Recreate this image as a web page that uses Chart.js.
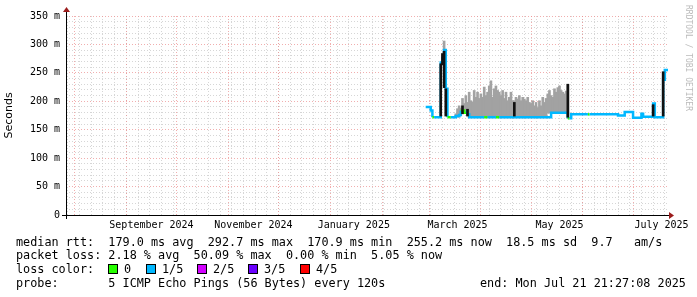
<!DOCTYPE html>
<html lang="en">
<head>
<meta charset="UTF-8">
<title>Smokeping - last 360 days</title>
<script src="https://cdn.jsdelivr.net/npm/chart.js@4.4.1/dist/chart.umd.min.js"></script>
<style>
    body { margin: 0; background: #fff; }
    #wrap { position: relative; width: 697px; height: 297px; font-family: "DejaVu Sans Mono", monospace; color: #000; }
    .leg { position: absolute; white-space: pre; font-size: 11.8px; line-height: 14px; }
    .box { position: absolute; width: 8px; height: 8px; border: 1px solid #000; }
    #credit { position: absolute; left: 684px; top: 5px; writing-mode: vertical-rl; font-size: 8px; line-height: 9px; color: #bbb; white-space: pre; }
</style>
</head>
<body>
<div id="wrap">
    <canvas id="myChart" width="697" height="297"></canvas>
    <div id="credit">RRDTOOL / TOBI OETIKER</div>
    <div class="leg" style="left:16px;top:235px">median rtt:  179.0 ms avg  292.7 ms max  170.9 ms min  255.2 ms now  18.5 ms sd  9.7   am/s</div>
    <div class="leg" style="left:16px;top:248px">packet loss: 2.18 % avg  50.09 % max  0.00 % min  5.05 % now</div>
    <div class="leg" style="left:16px;top:262px">loss color:</div>
    <div id="lossLegend"></div>
    <div class="leg" style="left:16px;top:276px">probe:       5 ICMP Echo Pings (56 Bytes) every 120s</div>
    <div class="leg" style="left:480px;top:276px">end: Mon Jul 21 21:27:08 2025</div>
</div>

<script>
    // median rtt (ms), value holds from each date until the next one
    var medDates = ['2025-02-27', '2025-03-02', '2025-03-03', '2025-03-04', '2025-03-08', '2025-03-09', '2025-03-10',
        '2025-03-11', '2025-03-12', '2025-03-14', '2025-03-17', '2025-03-19', '2025-03-20', '2025-03-22', '2025-03-23',
        '2025-03-24', '2025-03-25', '2025-04-03', '2025-04-05', '2025-04-10', '2025-04-12', '2025-05-13', '2025-05-23',
        '2025-05-24', '2025-05-25', '2025-06-04', '2025-06-05', '2025-06-22', '2025-06-26', '2025-07-01', '2025-07-06',
        '2025-07-07', '2025-07-13', '2025-07-14', '2025-07-19', '2025-07-20', '2025-07-21T21:27'];
    var medRtt = [190, 184, 172, 172, 268, 276, 290, 222, 172, 172,
        174, 176, 184, 180, 182, 177, 172, 172, 172, 172,
        172, 180, 170, 170, 177, 177, 177, 175, 181, 171,
        178, 173, 196, 172, 238, 255, 255];
    // loss bucket per median point: 0 = 0, 1 = 1/5, ...
    var medLoss = [1, 1, 0, 1, 1, 1, 1, 1, 0, 1,
        1, 1, 0, 0, 1, 1, 1, 0, 1, 0,
        1, 1, 0, 1, 1, 0, 1, 1, 1, 1,
        1, 1, 1, 1, 1, 1, 1];

    // smoke (spread of the pings), low and high edge in ms
    var smokeDates = ['2025-03-10',
        '2025-03-17', '2025-03-18', '2025-03-19', '2025-03-20', '2025-03-21', '2025-03-22', '2025-03-23', '2025-03-24',
        '2025-03-25', '2025-03-26', '2025-03-27', '2025-03-28', '2025-03-29', '2025-03-30', '2025-03-31', '2025-04-01',
        '2025-04-02', '2025-04-03', '2025-04-04', '2025-04-05', '2025-04-06', '2025-04-07', '2025-04-08', '2025-04-09',
        '2025-04-10', '2025-04-11', '2025-04-12', '2025-04-13', '2025-04-14', '2025-04-15', '2025-04-16', '2025-04-17',
        '2025-04-18', '2025-04-19', '2025-04-20', '2025-04-21', '2025-04-22', '2025-04-23', '2025-04-24', '2025-04-25',
        '2025-04-26', '2025-04-27', '2025-04-28', '2025-04-29', '2025-04-30', '2025-05-01', '2025-05-02', '2025-05-03',
        '2025-05-04', '2025-05-05', '2025-05-06', '2025-05-07', '2025-05-08', '2025-05-09', '2025-05-10', '2025-05-11',
        '2025-05-12', '2025-05-13', '2025-05-14', '2025-05-15', '2025-05-16', '2025-05-17', '2025-05-18', '2025-05-19',
        '2025-05-20', '2025-05-21', '2025-05-22', '2025-05-23'];
    var smokeLo = [288,
        172, 172, 172, 180, 180, 180, 180, 176,
        171, 171, 171, 171, 171, 171, 171, 171,
        171, 171, 171, 171, 171, 171, 171, 171,
        171, 171, 171, 171, 171, 171, 171, 171,
        171, 171, 171, 171, 171, 171, 171, 171,
        171, 171, 171, 171, 171, 171, 171, 171,
        171, 171, 171, 171, 171, 171, 171, 179,
        179, 179, 179, 179, 179, 179, 179, 179,
        179, 179, 179, 170];
    var smokeHi = [306,
        178, 187, 192, 188, 205, 196, 210, 198,
        216, 201, 199, 219, 207, 216, 205, 213,
        207, 225, 210, 216, 227, 236, 207, 222,
        227, 219, 216, 210, 219, 205, 216, 201,
        207, 216, 201, 201, 207, 204, 210, 201,
        207, 204, 201, 207, 198, 196, 201, 192,
        198, 189, 201, 192, 207, 198, 205, 213,
        219, 210, 207, 222, 216, 224, 227, 219,
        216, 213, 218, 230];

    // dense (dark) parts of the smoke
    var darkDates = ['2025-03-08', '2025-03-09', '2025-03-10', '2025-03-11', '2025-03-21', '2025-03-24',
        '2025-04-21', '2025-05-23', '2025-07-13', '2025-07-19'];
    var darkLo = [174, 264, 224, 174, 178, 174, 174, 172, 174, 174];
    var darkHi = [266, 284, 288, 222, 192, 186, 198, 230, 194, 252];

    // x axis labels
    var labelDates = ['2024-09-16', '2024-11-16', '2025-01-15', '2025-03-18', '2025-05-18', '2025-07-18'];
    var labelText = ['September 2024', 'November 2024', 'January 2025', 'March 2025', 'May 2025', 'July 2025'];

    var lossNames = ['0', '1/5', '2/5', '3/5', '4/5'];
    var lossColors = ['#26ff00', '#00b8ff', '#d200ff', '#6a00ff', '#ff0000'];

    var t0 = Date.UTC(2024, 6, 26, 21, 27);
    function day(s) {
        return (Date.parse(s.length > 10 ? s + 'Z' : s + 'T00:00Z') - t0) / 864e5;
    }

    // loss color legend boxes
    var lossX = [108, 146, 197, 248, 300];
    var legHtml = '';
    lossNames.forEach(function (n, i) {
        legHtml += '<div class="box" style="left:' + lossX[i] + 'px;top:264px;background:' + lossColors[i] + '"></div>';
        legHtml += '<div class="leg" style="left:' + (lossX[i] + 16) + 'px;top:262px">' + n + '</div>';
    });
    document.getElementById('lossLegend').innerHTML = legHtml;

    var med = medDates.map(function (d, i) { return {x: day(d), y: medRtt[i]}; });
    var smoke = smokeDates.map(function (d, i) { return {x: day(d), y: [smokeLo[i], smokeHi[i]]}; });
    var dark = darkDates.map(function (d, i) { return {x: day(d), y: [darkLo[i], darkHi[i]]}; });

    var MAJOR = 'rgba(235,140,140,0.7)';
    var MINOR = 'rgba(200,200,200,0.75)';
    var mono = {family: '"DejaVu Sans Mono", monospace', size: 10};

    var axisArrows = {
        id: 'axisArrows',
        afterDraw: function (chart) {
            var a = chart.chartArea, c = chart.ctx;
            c.save();
            c.strokeStyle = '#000';
            c.lineWidth = 1;
            c.beginPath();
            c.moveTo(a.left - 4, a.bottom + 0.5);
            c.lineTo(a.right + 2, a.bottom + 0.5);
            c.moveTo(a.left + 0.5, a.bottom + 4);
            c.lineTo(a.left + 0.5, a.top - 4);
            c.stroke();
            c.fillStyle = '#9b1c1c';
            c.beginPath();
            c.moveTo(a.right + 6, a.bottom + 0.5);
            c.lineTo(a.right + 1, a.bottom - 3);
            c.lineTo(a.right + 1, a.bottom + 4);
            c.fill();
            c.beginPath();
            c.moveTo(a.left + 0.5, a.top - 9);
            c.lineTo(a.left - 3, a.top - 4);
            c.lineTo(a.left + 4, a.top - 4);
            c.fill();
            c.restore();
        }
    };

    var ctx = document.getElementById('myChart').getContext('2d');
    var chart = new Chart(ctx, {
        type: 'line',
        data: {
            datasets: [{
                type: 'bar',
                label: 'smoke dense',
                data: dark,
                order: -1,
                grouped: false,
                barThickness: 2,
                backgroundColor: '#111'
            }, {
                type: 'line',
                label: 'median rtt',
                data: med,
                order: 0,
                stepped: true,
                borderWidth: 2.5,
                pointRadius: 0,
                borderColor: lossColors[1],
                segment: {
                    borderColor: function (c) { return lossColors[medLoss[c.p0DataIndex]]; }
                }
            }, {
                type: 'bar',
                label: 'smoke',
                data: smoke,
                order: 2,
                grouped: false,
                barThickness: 2,
                backgroundColor: '#a2a2a2'
            }]
        },
        options: {
            responsive: false,
            animation: false,
            devicePixelRatio: 1,
            layout: {padding: {left: 0, top: 16, right: 29, bottom: 0}},
            plugins: {legend: {display: false}, tooltip: {enabled: false}},
            scales: {
                x: {
                    type: 'linear', min: 0, max: 360, offset: false,
                    afterBuildTicks: function (s) {
                        var t = [];
                        for (var d = Date.UTC(2024, 6, 28); d < Date.UTC(2025, 6, 22); d += 7 * 864e5) {
                            t.push({value: (d - t0) / 864e5});
                        }
                        s.ticks = t;
                    },
                    ticks: {display: false, autoSkip: false},
                    grid: {color: MINOR, drawTicks: false, offset: false},
                    border: {display: false, dash: [1, 2]}
                },
                x2: {
                    type: 'linear', position: 'bottom', min: 0, max: 360, offset: false,
                    afterBuildTicks: function (s) {
                        var t = [];
                        for (var m = 7; m <= 18; m++) {
                            t.push({value: (Date.UTC(2024, m, 1) - t0) / 864e5});
                        }
                        s.ticks = t;
                    },
                    ticks: {display: false, autoSkip: false},
                    grid: {color: MAJOR, drawTicks: false, offset: false},
                    border: {display: false, dash: [1, 2]}
                },
                xl: {
                    type: 'linear', position: 'bottom', min: 0, max: 360, offset: false,
                    afterBuildTicks: function (s) {
                        s.ticks = labelDates.map(function (d) { return {value: day(d)}; });
                    },
                    afterFit: function (s) { s.height = 82; },
                    ticks: {
                        autoSkip: false, maxRotation: 0, padding: 4, color: '#000', font: mono,
                        callback: function (v, i) { return labelText[i]; }
                    },
                    grid: {display: false, drawTicks: false},
                    border: {display: false}
                },
                y: {
                    min: 0, max: 350,
                    afterFit: function (s) { s.width = 66; },
                    ticks: {
                        stepSize: 10, padding: 6, color: '#000', font: mono, autoSkip: false,
                        callback: function (v) {
                            if (v % 50 !== 0) return '';
                            return v === 0 ? '0' : v + ' m';
                        }
                    },
                    grid: {
                        drawTicks: false,
                        color: function (c) { return c.tick && c.tick.value % 50 === 0 ? MAJOR : MINOR; }
                    },
                    border: {display: false, dash: [1, 2]},
                    title: {
                        display: true, text: 'Seconds', color: '#000',
                        font: {family: '"DejaVu Sans", sans-serif', size: 11},
                        padding: {top: 3, bottom: 0}
                    }
                }
            }
        },
        plugins: [axisArrows]
    });
</script>
</body>
</html>
